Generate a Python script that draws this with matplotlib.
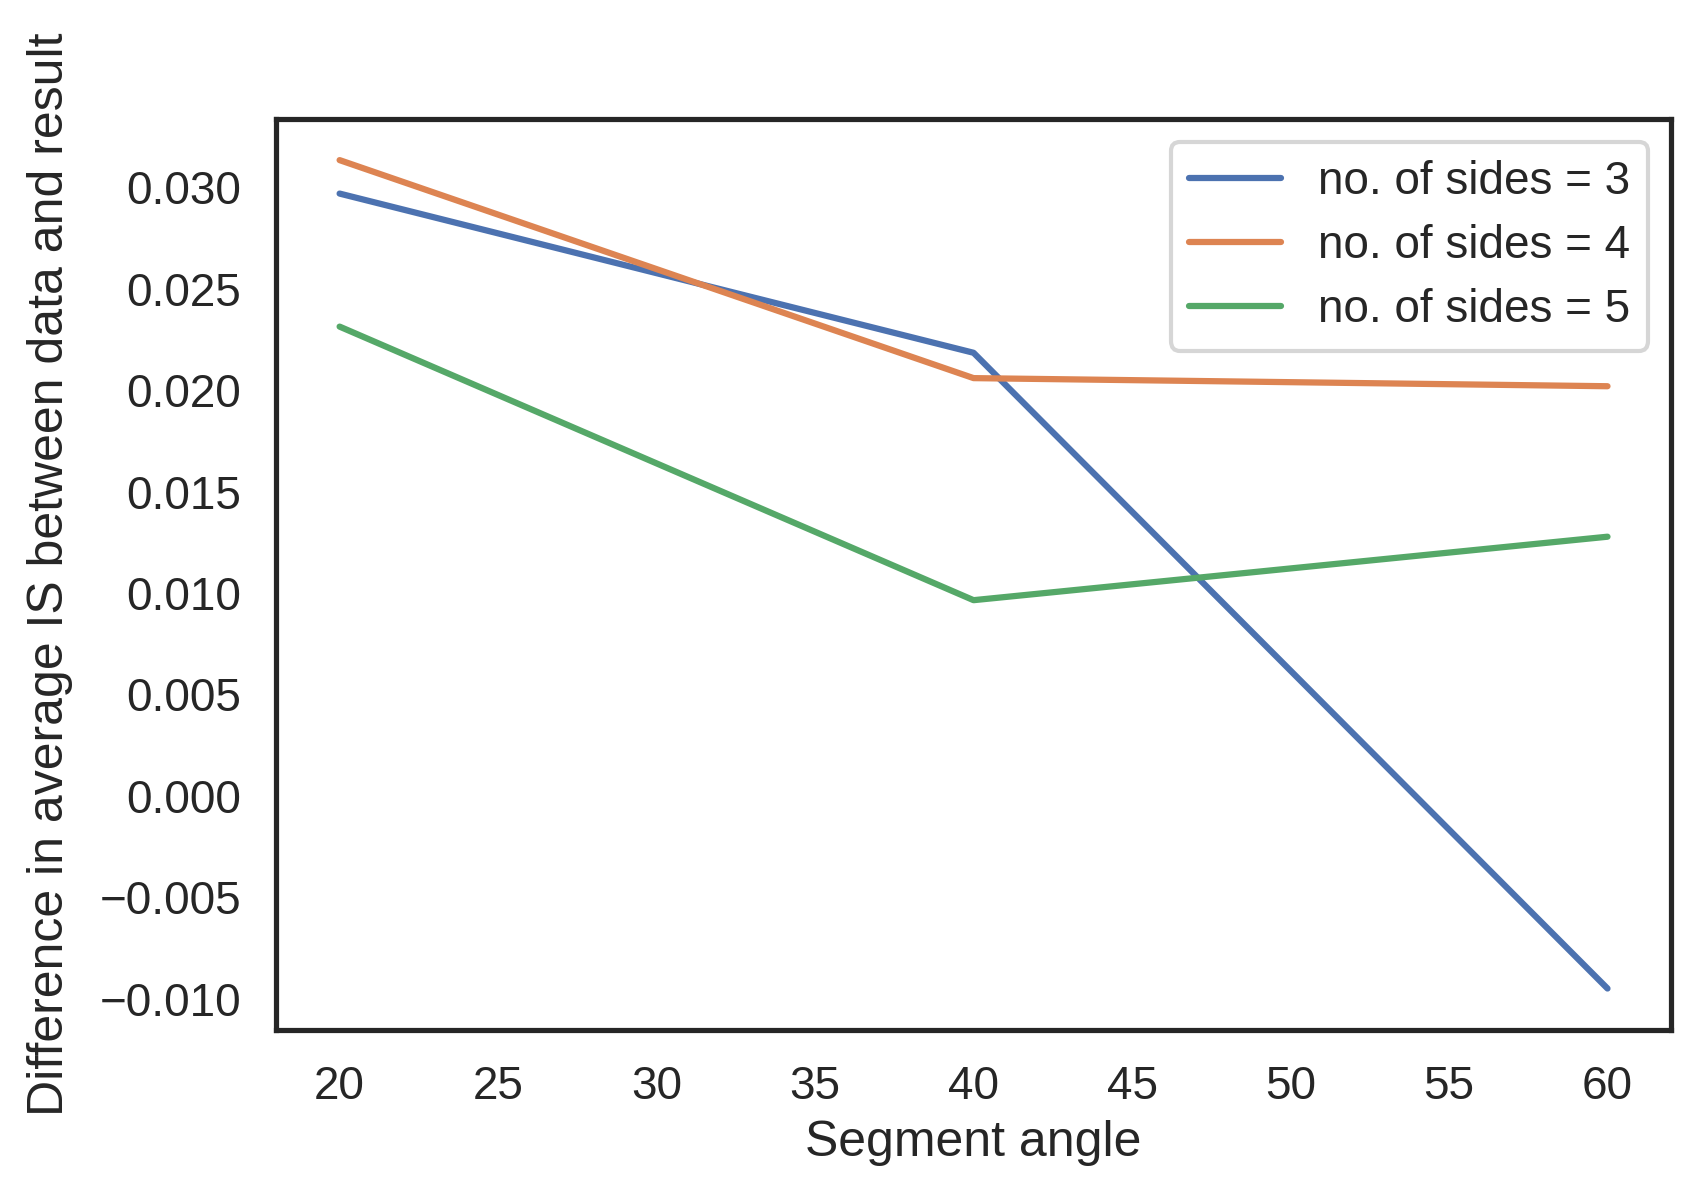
import numpy as np
import matplotlib
matplotlib.use("Agg")
import matplotlib.pyplot as plt
import seaborn as sns

segment_angles = [20, 40, 60]
diff_sides_3 = [0.0297, 0.02185, -0.0095]
diff_sides_4 = [0.03135, 0.0206, 0.0202]
diff_sides_5 = [0.02314, 0.00965, 0.01278]
series_labels = ["no. of sides = 3", "no. of sides = 4", "no. of sides = 5"]

sns.set_theme(style="white", context="talk")
plt.rcParams["font.family"] = ["Liberation Sans", "DejaVu Sans"]

fig, ax = plt.subplots(figsize=(8.525, 5.995), dpi=200)
fig.subplots_adjust(left=0.162, right=0.98, top=0.901, bottom=0.141)

for values, label in zip([diff_sides_3, diff_sides_4, diff_sides_5], series_labels):
    ax.plot(segment_angles, values, label=label)

ax.set_xlabel("Segment angle")
ax.set_ylabel("Difference in average IS between data and result", labelpad=9.5)
ax.legend(loc="upper right", labelspacing=0.44)
for spine in ax.spines.values():
    spine.set_color("#262626")

fig.savefig("out.png", dpi=200)
